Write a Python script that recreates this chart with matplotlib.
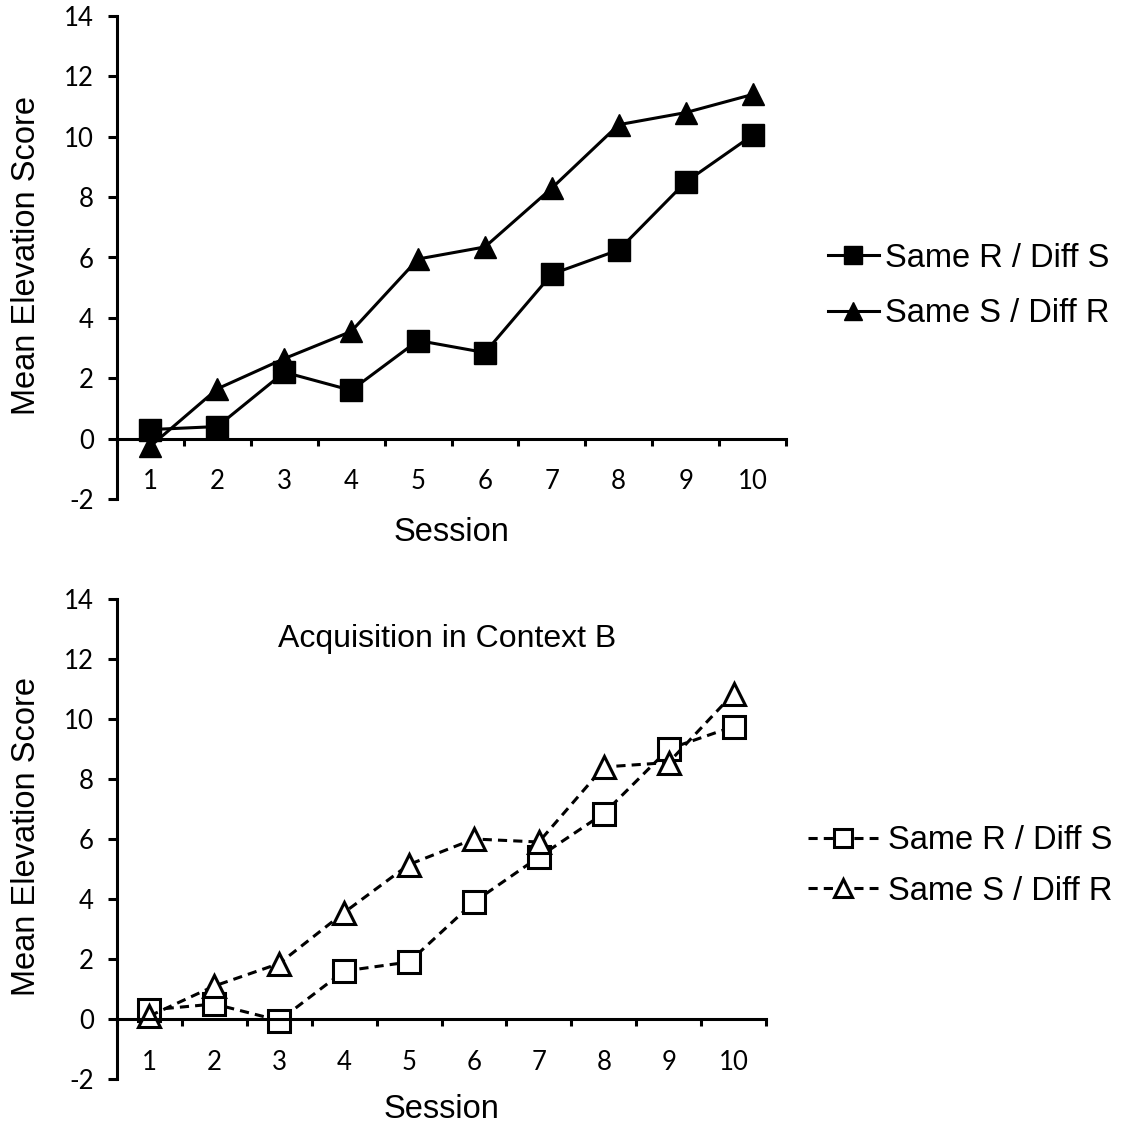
import matplotlib
matplotlib.use('Agg')
import matplotlib.pyplot as plt

# data
sessions = [1, 2, 3, 4, 5, 6, 7, 8, 9, 10]
top_same_r = [0.3, 0.4, 2.2, 1.6, 3.25, 2.85, 5.45, 6.25, 8.5, 10.05]
top_same_s = [-0.25, 1.65, 2.65, 3.55, 5.95, 6.35, 8.3, 10.4, 10.8, 11.4]
bot_same_r = [0.3, 0.5, -0.05, 1.6, 1.9, 3.9, 5.4, 6.85, 9.0, 9.75]
bot_same_s = [0.1, 1.1, 1.85, 3.55, 5.15, 6.0, 5.9, 8.4, 8.55, 10.85]
series_labels = ['Same R / Diff S', 'Same S / Diff R']
y_ticks = [-2, 0, 2, 4, 6, 8, 10, 12, 14]
panel_title = 'Acquisition in Context B'

W, H = 1122, 1128
TXT = 'Liberation Sans'
NUM = 'Lato'
BIG = 23.5
LW = 2.2

fig = plt.figure(figsize=(W / 100, H / 100), dpi=100)
ax1 = fig.add_axes([117 / W, 1 - 499 / H, (786 - 117) / W, (499 - 16) / H])
ax2 = fig.add_axes([117 / W, 1 - 1079 / H, (766 - 117) / W, (1079 - 599) / H])


def style_axes(ax, xlab_y, ylab_x):
    ax.set_xlim(0.5, 10.5)
    ax.set_ylim(-2, 14)
    ax.spines['top'].set_visible(False)
    ax.spines['right'].set_visible(False)
    ax.spines['bottom'].set_position(('data', 0))
    for s in ('left', 'bottom'):
        ax.spines[s].set_linewidth(LW)
    ax.set_yticks(y_ticks, labels=[str(v) for v in y_ticks])
    ax.set_xticks(sessions, labels=[str(v) for v in sessions])
    ax.set_xticks([i + 0.5 for i in range(0, 11)], minor=True)
    ax.tick_params(axis='y', direction='out', length=6.5, width=LW, pad=10)
    ax.tick_params(axis='x', which='major', length=0, pad=22)
    ax.tick_params(axis='x', which='minor', direction='out', length=5, width=LW)
    for t in ax.get_xticklabels() + ax.get_yticklabels():
        t.set_fontfamily(NUM)
        t.set_fontsize(18.5)
    ax.set_xlabel('Session', fontsize=BIG, family=TXT, va='baseline')
    ax.xaxis.set_label_coords(0.5, xlab_y)
    ax.set_ylabel('Mean Elevation Score', fontsize=BIG, family=TXT)
    ax.yaxis.set_label_coords(ylab_x, 0.505)


# top panel: filled markers, solid lines
ax1.plot(sessions, top_same_r, color='black', lw=LW, marker='s', ms=15.5,
         mfc='black', mec='black', label=series_labels[0], clip_on=False)
ax1.plot(sessions, top_same_s, color='black', lw=LW, marker='^', ms=16.5,
         mfc='black', mec='black', label=series_labels[1], clip_on=False)
style_axes(ax1, -0.087, -0.112)
ax1.legend(loc='center left', bbox_to_anchor=(828 / W, 1 - 286 / H),
           bbox_transform=fig.transFigure, frameon=False, borderpad=0,
           borderaxespad=0, handlelength=1.55, handletextpad=0.2,
           labelspacing=0.75, markerscale=0.8, prop={'family': TXT, 'size': BIG})

# bottom panel: open markers, dashed lines
dash = (0, (3, 2))
ax2.plot(sessions, bot_same_r, color='black', lw=LW, ls=dash, marker='s', ms=16,
         mfc='white', mec='black', mew=2.2, label=series_labels[0], clip_on=False)
ax2.plot(sessions, bot_same_s, color='black', lw=LW, ls=dash, marker='^', ms=16.5,
         mfc='white', mec='black', mew=2.2, label=series_labels[1], clip_on=False)
style_axes(ax2, -0.081, -0.1156)
ax2.text(0.508, 0.899, panel_title, transform=ax2.transAxes, ha='center',
         va='baseline', fontsize=23, family=TXT)
ax2.legend(loc='center left', bbox_to_anchor=(808 / W, 1 - 866 / H),
           bbox_transform=fig.transFigure, frameon=False, borderpad=0,
           borderaxespad=0, handlelength=2.15, handletextpad=0.3,
           labelspacing=0.6, markerscale=0.8, prop={'family': TXT, 'size': BIG})

fig.savefig('out.png', dpi=100)
